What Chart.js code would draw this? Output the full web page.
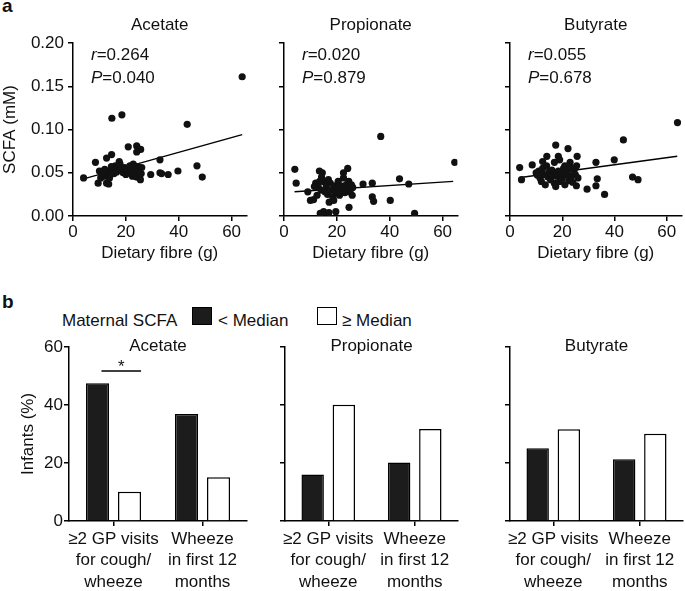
<!DOCTYPE html>
<html lang="en">
<head>
  <meta charset="UTF-8">
  <title>Maternal SCFA and infant outcomes</title>
  <script src="https://cdn.jsdelivr.net/npm/chart.js"></script>
  <style>
    body {
      margin: 0;
      background: #fff;
      font-family: 'Liberation Sans', Arial, sans-serif;
      color: #111;
    }
    .wrap {
      position: relative;
      width: 685px;
      height: 591px;
      overflow: hidden;
    }
    canvas { position: absolute; }
    .lbl {
      position: absolute;
      font-size: 17px;
      line-height: 17px;
      white-space: nowrap;
    }
    .tag {
      position: absolute;
      font-size: 19px;
      line-height: 19px;
      font-weight: bold;
    }
    .sw {
      position: absolute;
      width: 20px;
      height: 18px;
      box-sizing: border-box;
      border: 1.5px solid #000;
    }
  </style>
</head>
<body>
  <div class="wrap">
    <!-- panel letters and legend -->
    <div class="tag" style="left:2px; top:-4px;">a</div>
    <div class="tag" style="left:2px; top:292px;">b</div>
    <div class="lbl" style="left:62px; top:312px;">Maternal SCFA</div>
    <div class="sw" style="left:192px; top:307px; background:#1c1c1c;"></div>
    <div class="lbl" style="left:218px; top:312px;">&lt; Median</div>
    <div class="sw" style="left:317px; top:307px; background:#fff;"></div>
    <div class="lbl" style="left:342px; top:312px;">≥ Median</div>

    <!-- a: scatter panels -->
    <canvas id="scAcetate" width="250" height="270" style="left:0; top:0;"></canvas>
    <canvas id="scPropionate" width="206" height="270" style="left:255px; top:0;"></canvas>
    <canvas id="scButyrate" width="204" height="270" style="left:481px; top:0;"></canvas>

    <!-- b: bar panels -->
    <canvas id="barAcetate" width="249" height="291" style="left:0; top:300px;"></canvas>
    <canvas id="barPropionate" width="204" height="291" style="left:256px; top:300px;"></canvas>
    <canvas id="barButyrate" width="204" height="291" style="left:481px; top:300px;"></canvas>
  </div>

  <script>
    // ---- data ----
    const acidNames = ['Acetate', 'Propionate', 'Butyrate'];
    const rValues = ['0.264', '0.020', '0.055'];
    const pValues = ['0.040', '0.879', '0.678'];
    const fibreTicks = [0, 20, 40, 60];
    const scfaTicks = [0, 0.05, 0.10, 0.15, 0.20];

    // dietary fibre (g) vs SCFA (mM)
    const acetatePts = [
      [4, 0.044], [64, 0.161], [14.7, 0.113], [18.5, 0.117], [43.2, 0.106], [39.7, 0.052],
      [32.9, 0.065], [32.9, 0.050], [33.5, 0.049], [36, 0.048], [29.4, 0.048], [46.9, 0.058],
      [48.9, 0.045], [8.5, 0.062], [9.5, 0.038], [12.7, 0.038], [13.5, 0.037], [14.6, 0.071],
      [12.7, 0.067], [20.9, 0.080], [24.1, 0.081], [24.1, 0.074], [25.6, 0.077], [17.5, 0.063],
      [17, 0.057], [16, 0.058], [15, 0.055], [14, 0.052], [13, 0.050], [12, 0.046],
      [11, 0.050], [10.5, 0.044], [10, 0.052], [12, 0.054], [15.5, 0.049], [16.5, 0.051],
      [18, 0.053], [19, 0.050], [19.5, 0.056], [20, 0.048], [21, 0.054], [21.5, 0.058],
      [22, 0.051], [22.5, 0.046], [23, 0.055], [23.5, 0.049], [24, 0.045], [24.5, 0.057],
      [25, 0.052], [25.5, 0.042], [26, 0.056], [25.8, 0.049], [13.8, 0.044], [17.8, 0.060],
      [20.5, 0.052], [22.8, 0.060], [11.5, 0.047], [14.5, 0.057]
    ];
    const propionatePts = [
      [4.1, 0.054], [4.6, 0.038], [36.6, 0.092], [64.6, 0.062], [43.7, 0.043], [47.2, 0.037],
      [49.4, 0.003], [40.2, 0.018], [33.4, 0.022], [33.9, 0.017], [33.4, 0.038], [29.9, 0.037],
      [24.6, 0.010], [13.7, 0.003], [15, 0.005], [17, 0.004], [19.6, 0.005], [17.1, 0.016],
      [9, 0.028], [10, 0.018], [11.2, 0.019], [13.4, 0.052], [24.1, 0.055], [22.5, 0.050],
      [14.5, 0.050], [12, 0.038], [13, 0.033], [14, 0.030], [15, 0.040], [16, 0.035],
      [16.5, 0.025], [17.5, 0.038], [18, 0.030], [18.5, 0.022], [19, 0.035], [19.5, 0.027],
      [20, 0.032], [20.5, 0.040], [21, 0.024], [21.5, 0.035], [22, 0.030], [22.5, 0.044],
      [23, 0.027], [23.5, 0.036], [24, 0.031], [24.5, 0.040], [25, 0.028], [25.5, 0.036],
      [26, 0.033], [25.8, 0.024], [12.5, 0.024], [14.2, 0.045], [16.8, 0.042], [18.8, 0.018],
      [20.8, 0.028], [15.5, 0.028], [13.5, 0.040], [11.5, 0.034]
    ];
    const butyratePts = [
      [3.7, 0.056], [4.4, 0.042], [64.1, 0.108], [43.4, 0.088], [39.9, 0.065], [32.9, 0.062],
      [33.4, 0.043], [32.9, 0.035], [29.5, 0.031], [36.2, 0.025], [46.9, 0.045], [49, 0.042],
      [8.5, 0.059], [17.5, 0.082], [22.2, 0.078], [14.1, 0.069], [18.5, 0.069], [19, 0.065],
      [25.7, 0.069], [12.5, 0.063], [25.4, 0.035], [10, 0.050], [10.5, 0.047], [11, 0.052],
      [11.5, 0.044], [12, 0.040], [12.5, 0.055], [13, 0.048], [13.5, 0.036], [14, 0.058],
      [14.5, 0.045], [15, 0.051], [15.5, 0.042], [16, 0.053], [16.5, 0.047], [17, 0.038],
      [17.5, 0.034], [18, 0.046], [18.5, 0.052], [19, 0.040], [19.5, 0.049], [20, 0.043],
      [20.5, 0.055], [21, 0.036], [21.5, 0.048], [22, 0.052], [22.5, 0.041], [23, 0.057],
      [23.5, 0.046], [24, 0.039], [24.5, 0.053], [25, 0.048], [25.5, 0.058], [26, 0.044],
      [23, 0.062], [17, 0.062], [21, 0.058]
    ];
    // regression line end points
    const acetateFit = [[4, 0.043], [64, 0.094]];
    const propionateFit = [[4, 0.028], [64, 0.040]];
    const butyrateFit = [[4, 0.0445], [64, 0.069]];

    // infants (%) by maternal SCFA group
    const outcomeLabels = [['≥2 GP visits', 'for cough/', 'wheeze'], ['Wheeze', 'in first 12', 'months']];
    const infantTicks = [0, 20, 40, 60];
    const acetateBelow = [47.5, 36.9];
    const acetateAbove = [10.1, 15.1];
    const propionateBelow = [16.0, 20.2];
    const propionateAbove = [40.1, 31.7];
    const butyrateBelow = [25.1, 21.3];
    const butyrateAbove = [31.6, 30.1];
    const sigLevel = 51.7;

    // ---- shared look ----
    const FONT = "'Liberation Sans', Arial, sans-serif";
    const INK = '#111';
    Chart.defaults.font.family = FONT;
    Chart.defaults.font.size = 17;
    Chart.defaults.color = INK;

    const axisGrid = { drawOnChartArea: false, drawTicks: true, tickLength: 5, color: '#000', lineWidth: 1.5 };
    const axisBorder = { display: true, color: '#000', width: 1.5 };
    const fixTicks = arr => s => { s.ticks = arr.map(v => ({ value: v })); };

    // titles and r / P text inside each panel
    const panelText = {
      id: 'panelText',
      afterDraw(chart, args, o) {
        const ctx = chart.ctx, a = chart.chartArea;
        ctx.save();
        ctx.fillStyle = INK;
        ctx.textBaseline = 'middle';
        ctx.font = '17px ' + FONT;
        if (o.title) {
          ctx.textAlign = 'center';
          ctx.fillText(o.title, (a.left + a.right) / 2, o.titleY);
        }
        if (o.stats) {
          ctx.textAlign = 'left';
          o.stats.forEach(([k, v], i) => {
            const x = a.left + 18, y = o.statsY + i * 23;
            ctx.font = 'italic 17px ' + FONT;
            ctx.fillText(k, x, y);
            const w = ctx.measureText(k).width;
            ctx.font = '17px ' + FONT;
            ctx.fillText('=' + v, x + w, y);
          });
        }
        ctx.restore();
      }
    };

    // significance bar over the first acetate pair
    const sigMark = {
      id: 'sigMark',
      afterDatasetsDraw(chart, args, o) {
        if (!o.show) return;
        const ctx = chart.ctx;
        const b0 = chart.getDatasetMeta(0).data[0];
        const b1 = chart.getDatasetMeta(1).data[0];
        const y = chart.scales.y.getPixelForValue(sigLevel);
        const x0 = b0.x + 4, x1 = b1.x + b1.width / 2;
        ctx.save();
        ctx.strokeStyle = '#000';
        ctx.lineWidth = 1.5;
        ctx.beginPath();
        ctx.moveTo(x0, y);
        ctx.lineTo(x1, y);
        ctx.stroke();
        ctx.fillStyle = INK;
        ctx.font = '17px ' + FONT;
        ctx.textAlign = 'center';
        ctx.textBaseline = 'alphabetic';
        ctx.fillText('*', (x0 + x1) / 2, y + 1);
        ctx.restore();
      }
    };

    function scatterChart(id, i, pts, fit, yWidth, padRight, showY) {
      const toXY = arr => arr.map(p => ({ x: p[0], y: p[1] }));
      new Chart(document.getElementById(id), {
        type: 'scatter',
        data: {
          datasets: [
            {
              data: toXY(pts),
              backgroundColor: '#111',
              borderColor: '#111',
              pointRadius: 3.6,
              pointHoverRadius: 3.6,
              borderWidth: 0
            },
            {
              data: toXY(fit),
              showLine: true,
              borderColor: '#000',
              borderWidth: 1.4,
              pointRadius: 0,
              fill: false
            }
          ]
        },
        options: {
          responsive: false,
          animation: false,
          events: [],
          layout: { padding: { top: 43, right: padRight, left: 0, bottom: 0 } },
          plugins: {
            legend: { display: false },
            tooltip: { enabled: false },
            panelText: {
              title: acidNames[i], titleY: 25,
              stats: [['r', rValues[i]], ['P', pValues[i]]], statsY: 55
            }
          },
          scales: {
            x: {
              type: 'linear', min: 0, max: 65.6,
              afterBuildTicks: fixTicks(fibreTicks),
              afterFit: s => { s.height = 54; },
              grid: axisGrid, border: axisBorder,
              ticks: { padding: 1, maxRotation: 0 },
              title: { display: true, text: 'Dietary fibre (g)', padding: { top: 0, bottom: 6 } }
            },
            y: {
              type: 'linear', min: 0, max: 0.2,
              afterBuildTicks: fixTicks(scfaTicks),
              afterFit: s => { s.width = yWidth; },
              grid: axisGrid, border: axisBorder,
              ticks: { display: showY, padding: 4, callback: v => v.toFixed(2) },
              title: { display: showY, text: 'SCFA (mM)', padding: { top: 0, bottom: 0 } }
            }
          }
        },
        plugins: [panelText]
      });
    }

    function barChart(id, i, below, above, yWidth, showY, sig) {
      new Chart(document.getElementById(id), {
        type: 'bar',
        data: {
          labels: outcomeLabels,
          datasets: [
            { data: below, backgroundColor: '#1c1c1c', borderColor: '#000', borderWidth: 1.5 },
            { data: above, backgroundColor: '#fff', borderColor: '#000', borderWidth: 1.5 }
          ]
        },
        options: {
          responsive: false,
          animation: false,
          events: [],
          datasets: { bar: { categoryPercentage: 0.72, barPercentage: 0.72 } },
          layout: { padding: { top: 47, right: 2, left: 0, bottom: 0 } },
          plugins: {
            legend: { display: false },
            tooltip: { enabled: false },
            panelText: { title: acidNames[i], titleY: 46 },
            sigMark: { show: sig }
          },
          scales: {
            x: {
              afterFit: s => { s.height = 70; },
              grid: Object.assign({}, axisGrid, { offset: false }),
              border: axisBorder,
              ticks: { padding: 2, maxRotation: 0, autoSkip: false, font: { size: 17, lineHeight: 1.28 } }
            },
            y: {
              min: 0, max: 60,
              afterBuildTicks: fixTicks(infantTicks),
              afterFit: s => { s.width = yWidth; },
              grid: axisGrid, border: axisBorder,
              ticks: { display: showY, padding: 1 },
              title: { display: showY, text: 'Infants (%)', padding: { top: 18, bottom: 0 } }
            }
          }
        },
        plugins: [panelText, sigMark]
      });
    }

    scatterChart('scAcetate', 0, acetatePts, acetateFit, 73, 2, true);
    scatterChart('scPropionate', 1, propionatePts, propionateFit, 29, 2, false);
    scatterChart('scButyrate', 2, butyratePts, butyrateFit, 29, 2, false);

    barChart('barAcetate', 0, acetateBelow, acetateAbove, 69, true, true);
    barChart('barPropionate', 1, propionateBelow, propionateAbove, 29, false, false);
    barChart('barButyrate', 2, butyrateBelow, butyrateAbove, 29, false, false);
  </script>
</body>
</html>
